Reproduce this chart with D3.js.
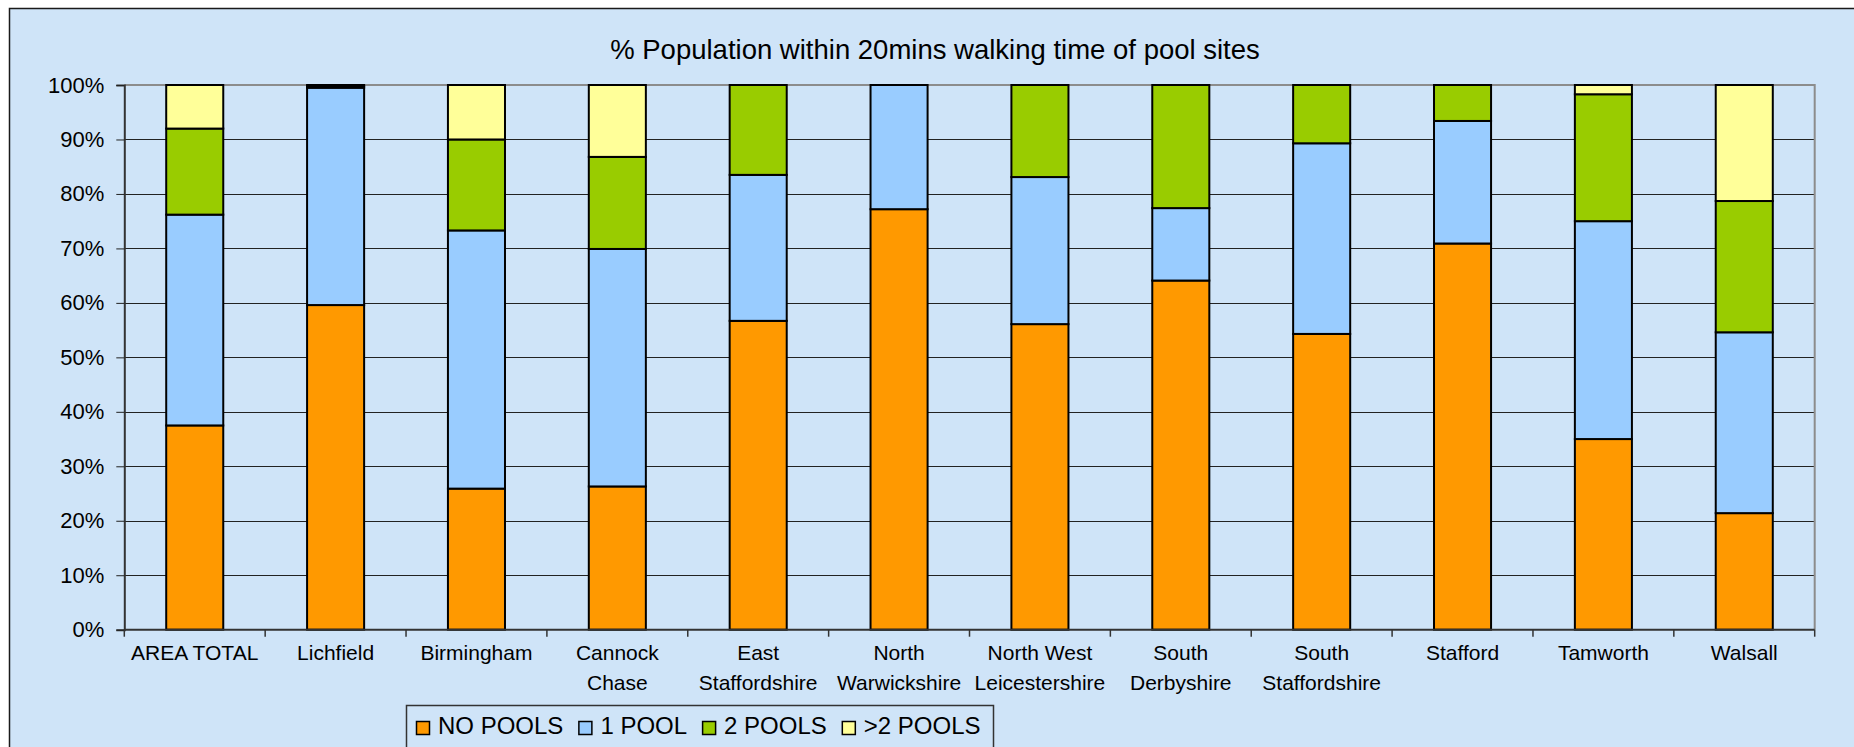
<!DOCTYPE html>
<html>
<head>
<meta charset="utf-8">
<script src="https://cdn.jsdelivr.net/npm/d3@7"></script>
<style>
  html, body { margin: 0; padding: 0; background: #ffffff; }
  svg text { font-family: "Liberation Sans", Arial, sans-serif; fill: #000; }
</style>
</head>
<body>
<div id="chart"></div>
<script>
// categories (second line of label after "|")
var categories = ["AREA TOTAL", "Lichfield", "Birmingham", "Cannock|Chase", "East|Staffordshire",
    "North|Warwickshire", "North West|Leicestershire", "South|Derbyshire", "South|Staffordshire",
    "Stafford", "Tamworth", "Walsall"];

// series values, % of population
var noPools    = [37.5, 59.6, 25.9, 26.3, 56.7, 77.2, 56.1, 64.1, 54.3, 70.9, 35.0, 21.4];
var onePool    = [38.7, 39.9, 47.4, 43.6, 26.8, 22.8, 27.0, 13.3, 35.0, 22.5, 40.0, 33.2];
var twoPools   = [15.8,  0.3, 16.7, 16.9, 16.5,  0.0, 16.9, 22.6, 10.7,  6.6, 23.3, 24.1];
var morePools  = [ 8.0,  0.2, 10.0, 13.2,  0.0,  0.0,  0.0,  0.0,  0.0,  0.0,  1.7, 21.3];

var seriesNames  = ["NO POOLS", "1 POOL", "2 POOLS", ">2 POOLS"];
var seriesColors = ["#ff9900", "#99ccff", "#99cc00", "#ffff99"];
var yTicks = [0, 10, 20, 30, 40, 50, 60, 70, 80, 90, 100];

var title = "% Population within 20mins walking time of pool sites";

(function (d3) {
    "use strict";

    var W = 1854, H = 747;
    var plot = { left: 124.3, right: 1814.7, top: 85, bottom: 629.7 };

    var svg = d3.select("#chart").append("svg")
        .attr("width", W)
        .attr("height", H);

    // chart area frame
    svg.append("rect")
        .attr("x", 9.5).attr("y", 8.5)
        .attr("width", W + 20).attr("height", H + 20)
        .attr("fill", "#cfe4f8")
        .attr("stroke", "#1a1a1a")
        .attr("stroke-width", 1.5);

    // title
    svg.append("text")
        .attr("x", 935).attr("y", 59)
        .attr("text-anchor", "middle")
        .style("font-size", "27.5px")
        .text(title);

    // scales
    var xScale = d3.scaleBand()
        .domain(categories)
        .range([plot.left, plot.right])
        .paddingInner(0.595)
        .paddingOuter(0.2975);

    var yScale = d3.scaleLinear()
        .domain([0, 100])
        .range([plot.bottom, plot.top]);

    // gridlines
    svg.append("g").selectAll("line")
        .data(yTicks.filter(function (t) { return t > 0 && t < 100; }))
        .enter().append("line")
        .attr("x1", plot.left).attr("x2", plot.right)
        .attr("y1", function (d) { return Math.round(yScale(d)) + 0.5; })
        .attr("y2", function (d) { return Math.round(yScale(d)) + 0.5; })
        .attr("stroke", "#222")
        .attr("stroke-width", 1);

    // plot border top + right (grey)
    svg.append("path")
        .attr("d", "M" + plot.left + "," + plot.top + "H" + plot.right + "V" + plot.bottom)
        .attr("fill", "none")
        .attr("stroke", "#8c8c8c")
        .attr("stroke-width", 2);

    // stacked data
    var rows = categories.map(function (c, i) {
        return { cat: c, s0: noPools[i], s1: onePool[i], s2: twoPools[i], s3: morePools[i] };
    });
    var stack = d3.stack().keys(["s0", "s1", "s2", "s3"]);
    var stacked = stack(rows);

    var layers = svg.append("g").selectAll("g")
        .data(stacked)
        .enter().append("g")
        .attr("fill", function (d, i) { return seriesColors[i]; });

    layers.selectAll("rect")
        .data(function (d) { return d.filter(function (p) { return p[1] - p[0] > 0; }); })
        .enter().append("rect")
        .attr("x", function (d) { return xScale(d.data.cat); })
        .attr("width", xScale.bandwidth())
        .attr("y", function (d) { return yScale(d[1]); })
        .attr("height", function (d) { return yScale(d[0]) - yScale(d[1]); })
        .attr("stroke", "#000")
        .attr("stroke-width", 2);

    // y axis
    var yAxis = d3.axisLeft(yScale)
        .tickValues(yTicks)
        .tickSize(8)
        .tickPadding(12)
        .tickFormat(function (d) { return d + "%"; });

    var yg = svg.append("g")
        .attr("transform", "translate(" + plot.left + ",0)")
        .call(yAxis);
    yg.select(".domain").attr("stroke", "#333").attr("stroke-width", 2);
    yg.selectAll(".tick line").attr("stroke", "#222");
    yg.selectAll(".tick text")
        .style("font-size", "22px")
        .style("font-family", "'Liberation Sans', Arial, sans-serif")
        .attr("fill", "#000");

    // x axis line and ticks at category boundaries
    svg.append("line")
        .attr("x1", plot.left).attr("x2", plot.right)
        .attr("y1", plot.bottom).attr("y2", plot.bottom)
        .attr("stroke", "#333").attr("stroke-width", 2);

    var step = xScale.step();
    svg.append("g").selectAll("line")
        .data(d3.range(categories.length + 1))
        .enter().append("line")
        .attr("x1", function (i) { return plot.left + i * step; })
        .attr("x2", function (i) { return plot.left + i * step; })
        .attr("y1", plot.bottom)
        .attr("y2", plot.bottom + 7)
        .attr("stroke", "#333")
        .attr("stroke-width", 1.5);

    // x labels
    var xl = svg.append("g").selectAll("text")
        .data(categories)
        .enter().append("text")
        .attr("text-anchor", "middle")
        .attr("x", function (d) { return xScale(d) + xScale.bandwidth() / 2; })
        .attr("y", 660)
        .style("font-size", "21px");
    xl.each(function (d) {
        var parts = d.split("|");
        var t = d3.select(this);
        parts.forEach(function (p, k) {
            t.append("tspan")
                .attr("x", t.attr("x"))
                .attr("dy", k === 0 ? 0 : 29.5)
                .text(p);
        });
    });

    // legend
    var legend = svg.append("g");
    legend.append("rect")
        .attr("x", 406.5).attr("y", 705.5)
        .attr("width", 587).attr("height", 60)
        .attr("fill", "#cfe4f8")
        .attr("stroke", "#333")
        .attr("stroke-width", 1.5);

    var lx = 416;
    seriesNames.forEach(function (name, i) {
        legend.append("rect")
            .attr("x", lx + 0.5).attr("y", 721.5)
            .attr("width", 13).attr("height", 13)
            .attr("fill", seriesColors[i])
            .attr("stroke", "#000")
            .attr("stroke-width", 1.5);
        var t = legend.append("text")
            .attr("x", lx + 22).attr("y", 734)
            .style("font-size", "24px")
            .text(name);
        lx += 22 + t.node().getComputedTextLength() + 15;
    });

})(d3);
</script>
</body>
</html>
